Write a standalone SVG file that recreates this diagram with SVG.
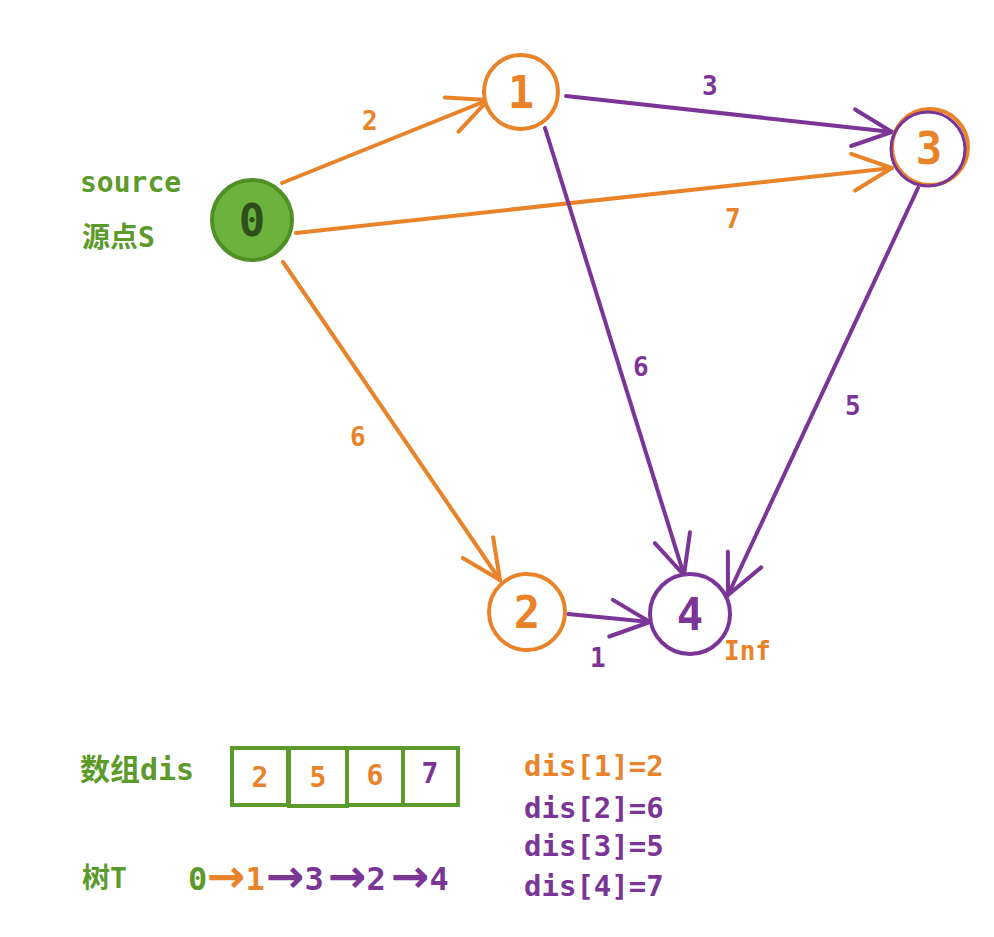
<svg xmlns="http://www.w3.org/2000/svg" width="994" height="937" viewBox="0 0 994 937">
<style>
.o{stroke:#e8832a}.p{stroke:#7a3597}
.e{fill:none;stroke-width:4;stroke-linecap:round}
.t{font-family:"DejaVu Sans Mono","Liberation Mono",monospace;font-weight:bold}
.to{fill:#e8832a}.tp{fill:#7a3597}.tg{fill:#5c9a2c}
.n{fill:#fff;stroke-width:4}
.c{font-family:"DejaVu Sans Mono","Noto Sans CJK SC",sans-serif;font-weight:bold}
.ar{font-size:46px;font-family:"DejaVu Sans",sans-serif;font-weight:bold}
</style>
<defs>
<marker id="ao" viewBox="0 0 40 40" refX="38" refY="20" markerWidth="46" markerHeight="46" markerUnits="userSpaceOnUse" orient="auto"><path d="M4,4 L38,20 L4,36" fill="none" stroke="#e8832a" stroke-width="3.5" stroke-linecap="round"/></marker>
<marker id="ap" viewBox="0 0 40 40" refX="38" refY="20" markerWidth="46" markerHeight="46" markerUnits="userSpaceOnUse" orient="auto"><path d="M4,4 L38,20 L4,36" fill="none" stroke="#7a3597" stroke-width="3.5" stroke-linecap="round"/></marker>
</defs>
<rect width="994" height="937" fill="#fff"/>
<g id="edges">
<line class="e o" x1="282" y1="183" x2="488" y2="100" marker-end="url(#ao)"/>
<line class="e p" x1="566" y1="96" x2="892" y2="132" marker-end="url(#ap)"/>
<line class="e o" x1="296" y1="233" x2="892" y2="168" marker-end="url(#ao)"/>
<line class="e p" x1="545" y1="128" x2="684" y2="575" marker-end="url(#ap)"/>
<line class="e p" x1="918" y1="188" x2="728" y2="595" marker-end="url(#ap)"/>
<line class="e o" x1="283" y1="262" x2="500" y2="580" marker-end="url(#ao)"/>
<line class="e p" x1="568" y1="614" x2="650" y2="622" marker-end="url(#ap)"/>
<g font-size="26" class="t">
<text x="362" y="130" class="to">2</text>
<text x="702" y="95" class="tp">3</text>
<text x="725" y="228" class="to">7</text>
<text x="633" y="376" class="tp">6</text>
<text x="845" y="415" class="tp">5</text>
<text x="350" y="446" class="to">6</text>
<text x="590" y="667" class="tp">1</text>
</g>
</g>
<g id="n0"><circle cx="252" cy="220" r="40" fill="#6cb33e" stroke="#4f8f23" stroke-width="4"/><text x="252" y="236" text-anchor="middle" font-size="44" class="t" fill="#2f4f1a">0</text></g>
<g id="n1"><circle cx="521" cy="92" r="37" class="n o"/><text x="521" y="108" text-anchor="middle" font-size="44" class="t to">1</text></g>
<g id="n3"><circle cx="930" cy="147" r="38" class="n o"/><circle cx="928" cy="149" r="37" fill="none" class="p" stroke-width="3"/><text x="929" y="164" text-anchor="middle" font-size="44" class="t to">3</text></g>
<g id="n2"><circle cx="527" cy="612" r="38" class="n o"/><text x="527" y="628" text-anchor="middle" font-size="44" class="t to">2</text></g>
<g id="n4"><circle cx="690" cy="614" r="40" class="n p"/><text x="690" y="630" text-anchor="middle" font-size="44" class="t tp">4</text><text x="724" y="660" font-size="26" class="t to">Inf</text></g>
<g id="labels">
<text x="80" y="192" font-size="28" class="t tg">source</text>
<text x="82" y="247" font-size="28" class="c tg">源点S</text>
<text x="80" y="780" font-size="30" class="c tg">数组dis</text>
<g fill="none" stroke="#5c9a2c" stroke-width="4"><rect x="232" y="748" width="56" height="57"/><rect x="289" y="748" width="58" height="58"/><rect x="347" y="748" width="56" height="57"/><rect x="403" y="748" width="55" height="57"/></g>
<g font-size="28" class="t" text-anchor="middle"><text x="260" y="787" class="to">2</text><text x="318" y="787" class="to">5</text><text x="375" y="785" class="to">6</text><text x="430" y="783" class="tp">7</text></g>
<text x="82" y="888" font-size="28" class="c tg">树T</text>
<g font-size="32" class="t">
<text x="188" y="890" class="tg">0</text>
<text x="207" y="890" class="to"><tspan class="ar" dy="2">→</tspan><tspan dy="-2">1</tspan></text>
<text x="266" y="890" class="tp"><tspan class="ar" dy="2">→</tspan><tspan dy="-2">3</tspan></text>
<text x="328" y="890" class="tp"><tspan class="ar" dy="2">→</tspan><tspan dy="-2">2</tspan></text>
<text x="391" y="890" class="tp"><tspan class="ar" dy="2">→</tspan><tspan dy="-2">4</tspan></text>
</g>
<g font-size="29" class="t"><text x="524" y="776" class="to">dis[1]=2</text><text x="524" y="818" class="tp">dis[2]=6</text><text x="524" y="856" class="tp">dis[3]=5</text><text x="524" y="896" class="tp">dis[4]=7</text></g>
</g>
</svg>
